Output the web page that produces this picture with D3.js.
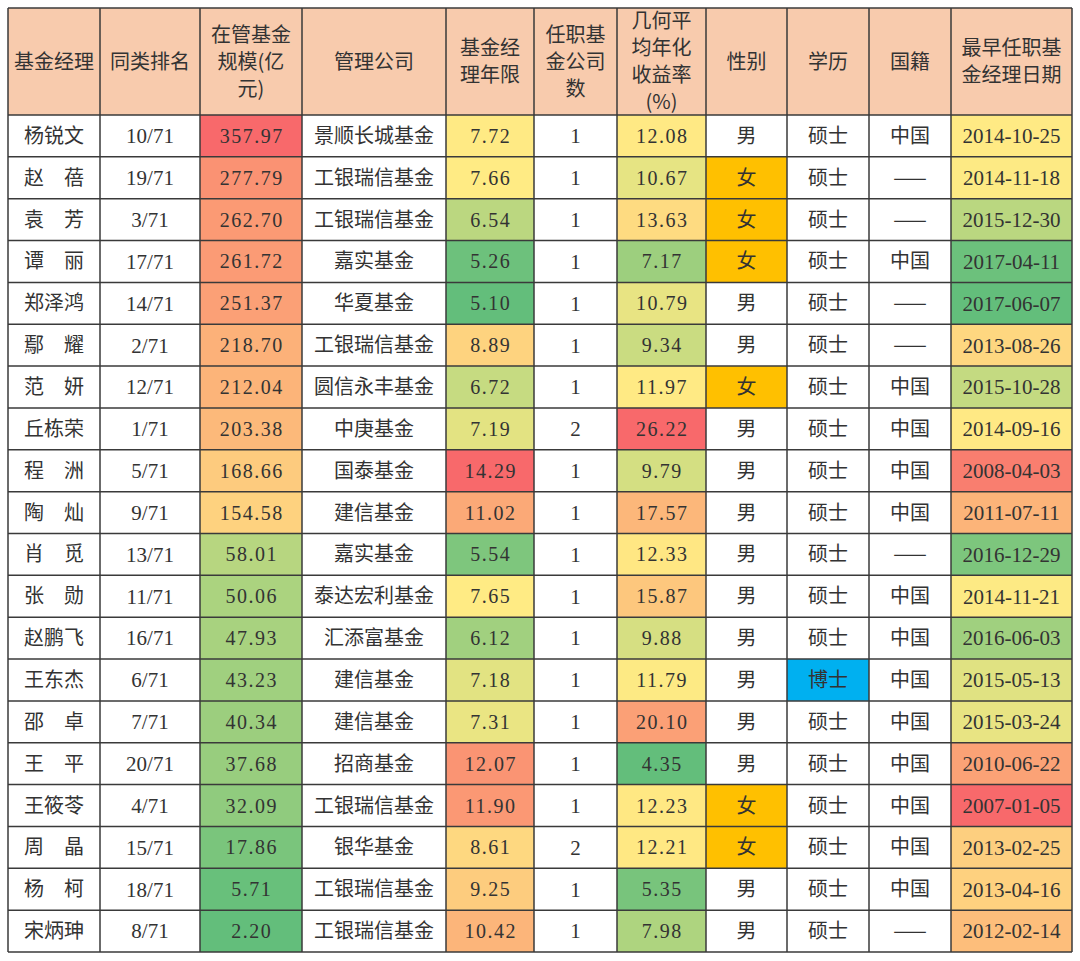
<!DOCTYPE html>
<html>
<head>
<meta charset="utf-8">
<script src="https://cdn.jsdelivr.net/npm/d3@7"></script>
<style>
  html, body { margin: 0; padding: 0; background: #fff; }
</style>
</head>
<body>
<div id="chart"></div>
<script>
// 表头（每列按行拆开）
const headers = [
    ['基金经理'],
    ['同类排名'],
    ['在管基金', '规模(亿', '元)'],
    ['管理公司'],
    ['基金经', '理年限'],
    ['任职基', '金公司', '数'],
    ['几何平', '均年化', '收益率', '(%)'],
    ['性别'],
    ['学历'],
    ['国籍'],
    ['最早任职基', '金经理日期']
];

const managers = ['杨锐文', '赵　蓓', '袁　芳', '谭　丽', '郑泽鸿', '鄢　耀', '范　妍', '丘栋荣', '程　洲', '陶　灿',
    '肖　觅', '张　勋', '赵鹏飞', '王东杰', '邵　卓', '王　平', '王筱苓', '周　晶', '杨　柯', '宋炳珅'];
const ranks = ['10/71', '19/71', '3/71', '17/71', '14/71', '2/71', '12/71', '1/71', '5/71', '9/71',
    '13/71', '11/71', '16/71', '6/71', '7/71', '20/71', '4/71', '15/71', '18/71', '8/71'];
const aum = [357.97, 277.79, 262.70, 261.72, 251.37, 218.70, 212.04, 203.38, 168.66, 154.58,
    58.01, 50.06, 47.93, 43.23, 40.34, 37.68, 32.09, 17.86, 5.71, 2.20];
const companies = ['景顺长城基金', '工银瑞信基金', '工银瑞信基金', '嘉实基金', '华夏基金', '工银瑞信基金', '圆信永丰基金', '中庚基金', '国泰基金', '建信基金',
    '嘉实基金', '泰达宏利基金', '汇添富基金', '建信基金', '建信基金', '招商基金', '工银瑞信基金', '银华基金', '工银瑞信基金', '工银瑞信基金'];
const tenure = [7.72, 7.66, 6.54, 5.26, 5.10, 8.89, 6.72, 7.19, 14.29, 11.02,
    5.54, 7.65, 6.12, 7.18, 7.31, 12.07, 11.90, 8.61, 9.25, 10.42];
const companyCount = [1, 1, 1, 1, 1, 1, 1, 2, 1, 1, 1, 1, 1, 1, 1, 1, 1, 2, 1, 1];
const returns = [12.08, 10.67, 13.63, 7.17, 10.79, 9.34, 11.97, 26.22, 9.79, 17.57,
    12.33, 15.87, 9.88, 11.79, 20.10, 4.35, 12.23, 12.21, 5.35, 7.98];
const gender = ['男', '女', '女', '女', '男', '男', '女', '男', '男', '男',
    '男', '男', '男', '男', '男', '男', '女', '女', '男', '男'];
const education = ['硕士', '硕士', '硕士', '硕士', '硕士', '硕士', '硕士', '硕士', '硕士', '硕士',
    '硕士', '硕士', '硕士', '博士', '硕士', '硕士', '硕士', '硕士', '硕士', '硕士'];
const nationality = ['中国', '——', '——', '中国', '——', '——', '中国', '中国', '中国', '中国',
    '——', '中国', '中国', '中国', '中国', '中国', '中国', '中国', '中国', '——'];
const startDates = ['2014-10-25', '2014-11-18', '2015-12-30', '2017-04-11', '2017-06-07', '2013-08-26', '2015-10-28', '2014-09-16', '2008-04-03', '2011-07-11',
    '2016-12-29', '2014-11-21', '2016-06-03', '2015-05-13', '2015-03-24', '2010-06-22', '2007-01-05', '2013-02-25', '2013-04-16', '2012-02-14'];

const W = 1080, H = 961;
const colEdges = [8, 100, 200, 302, 446, 534, 617, 706, 787, 869, 951, 1072];
const headTop = 8, headBottom = 115, tableBottom = 952;

const svg = d3.select('#chart').append('svg')
    .attr('width', W)
    .attr('height', H);

const y = d3.scaleBand()
    .domain(d3.range(managers.length))
    .range([headBottom, tableBottom]);

// 三色阶（类似 Excel：绿-黄-红，中点取中位数）
const GREEN = '#63BE7B', YELLOW = '#FFEB84', RED = '#F8696B';
function colorScale(values, reverse) {
    const range = reverse ? [RED, YELLOW, GREEN] : [GREEN, YELLOW, RED];
    return d3.scaleLinear()
        .domain([d3.min(values), d3.median(values), d3.max(values)])
        .range(range)
        .interpolate(d3.interpolateRgb);
}
const parseDate = d3.timeParse('%Y-%m-%d');
const dateNums = startDates.map(s => +parseDate(s));

const aumColor = colorScale(aum);
const tenureColor = colorScale(tenure);
const returnColor = colorScale(returns);
const dateColor = colorScale(dateNums, true);

const CJK = "'Noto Sans CJK SC', sans-serif";
const SERIF = "'Liberation Serif', 'Times New Roman', serif";
const TEXT = '#333';

// 每列的内容、填充与字体
const columns = [
    { text: i => managers[i], font: CJK },
    { text: i => ranks[i], font: SERIF, size: 21 },
    { text: i => aum[i].toFixed(2), font: SERIF, fill: i => aumColor(aum[i]), spacing: 1.5 },
    { text: i => companies[i], font: CJK },
    { text: i => tenure[i].toFixed(2), font: SERIF, fill: i => tenureColor(tenure[i]), spacing: 1.5 },
    { text: i => companyCount[i], font: SERIF, size: 21 },
    { text: i => returns[i].toFixed(2), font: SERIF, fill: i => returnColor(returns[i]), spacing: 1.5 },
    { text: i => gender[i], font: CJK, fill: i => gender[i] === '女' ? '#FFC000' : null },
    { text: i => education[i], font: CJK, fill: i => education[i] === '博士' ? '#00B0F0' : null },
    { text: i => nationality[i], font: CJK },
    { text: i => startDates[i], font: SERIF, size: 21, fill: i => dateColor(dateNums[i]) }
];

// 表头底色
svg.append('rect')
    .attr('x', colEdges[0])
    .attr('y', headTop)
    .attr('width', colEdges[colEdges.length - 1] - colEdges[0])
    .attr('height', headBottom - headTop)
    .attr('fill', '#F8CBAD');

// 单元格底色
columns.forEach((col, c) => {
    if (!col.fill) return;
    managers.forEach((_, i) => {
        const f = col.fill(i);
        if (!f) return;
        svg.append('rect')
            .attr('x', colEdges[c])
            .attr('y', y(i))
            .attr('width', colEdges[c + 1] - colEdges[c])
            .attr('height', y.bandwidth())
            .attr('fill', f);
    });
});

// 表头文字
const lineH = 27;
headers.forEach((lines, c) => {
    const cx = (colEdges[c] + colEdges[c + 1]) / 2;
    const cy = (headTop + headBottom) / 2;
    const t = svg.append('text')
        .attr('text-anchor', 'middle')
        .attr('font-family', CJK)
        .attr('font-size', 20)
        .attr('fill', TEXT);
    lines.forEach((ln, k) => {
        t.append('tspan')
            .attr('x', cx)
            .attr('y', cy + (k - (lines.length - 1) / 2) * lineH)
            .attr('dy', '0.36em')
            .text(ln);
    });
});

// 单元格文字
columns.forEach((col, c) => {
    const cx = (colEdges[c] + colEdges[c + 1]) / 2;
    managers.forEach((_, i) => {
        svg.append('text')
            .attr('x', cx + (col.spacing ? col.spacing / 2 : 0))
            .attr('y', y(i) + y.bandwidth() / 2)
            .attr('dy', '0.35em')
            .attr('text-anchor', 'middle')
            .attr('font-family', col.font)
            .attr('font-size', col.size || 20)
            .attr('letter-spacing', col.spacing || 0)
            .attr('fill', TEXT)
            .text(col.text(i));
    });
});

// 网格线
const grid = svg.append('g')
    .attr('stroke', '#3a3a3a')
    .attr('stroke-width', 1.5);

[headTop, headBottom].concat(d3.range(1, managers.length + 1).map(i => y(i - 1) + y.bandwidth()))
    .forEach(yy => {
        grid.append('line')
            .attr('x1', colEdges[0]).attr('x2', colEdges[colEdges.length - 1])
            .attr('y1', yy).attr('y2', yy);
    });

colEdges.forEach(xx => {
    grid.append('line')
        .attr('x1', xx).attr('x2', xx)
        .attr('y1', headTop).attr('y2', tableBottom);
});
</script>
</body>
</html>
